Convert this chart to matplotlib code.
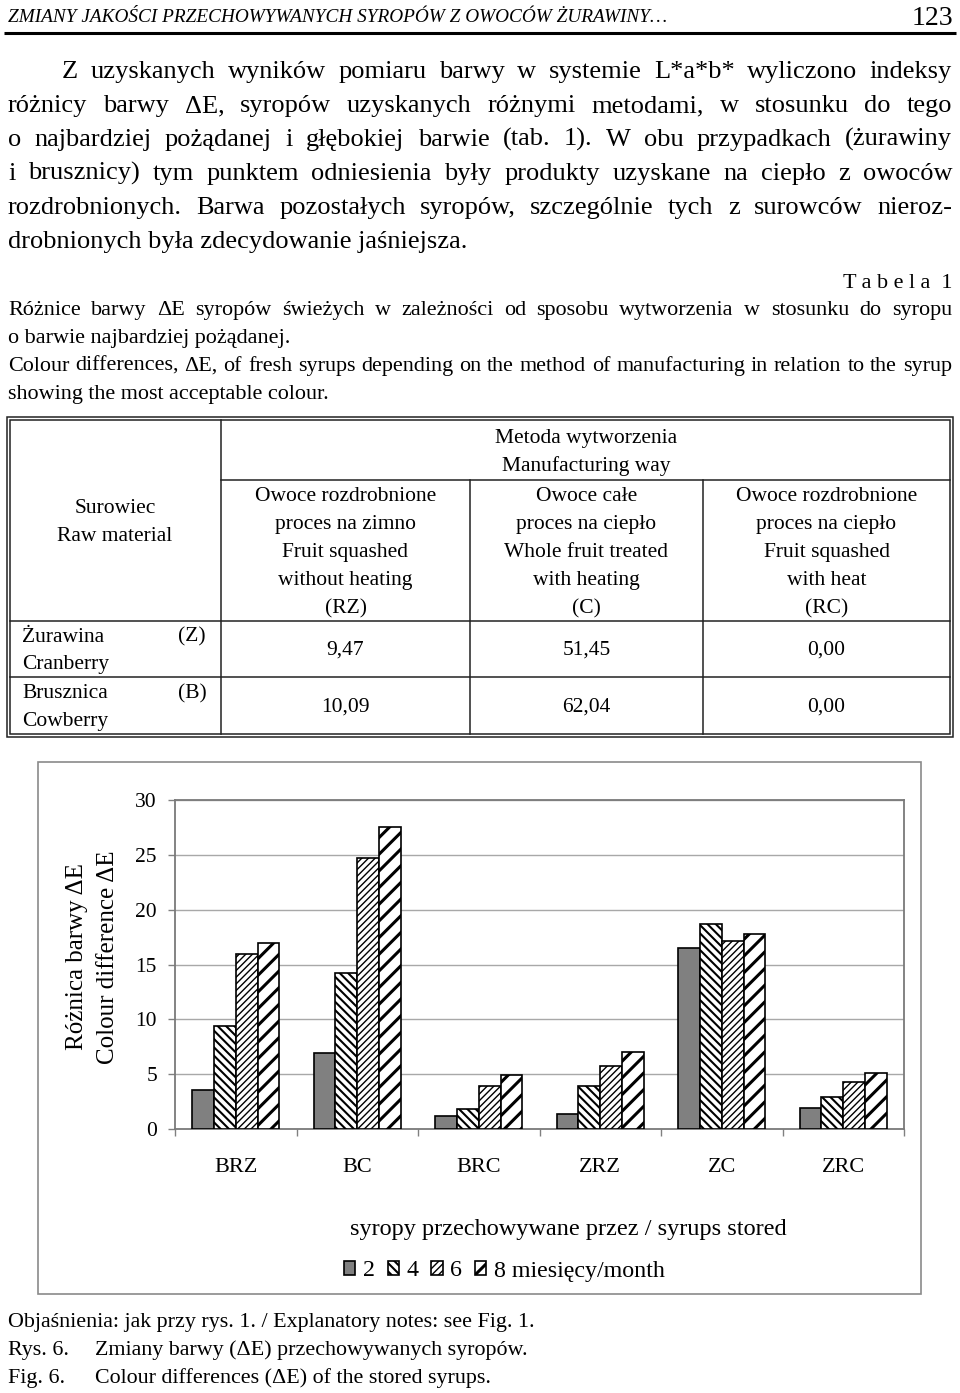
import matplotlib
matplotlib.use('Agg')
import matplotlib.pyplot as plt
from matplotlib.patches import Rectangle
import numpy as np

plt.rcParams['font.family'] = ['Liberation Serif', 'DejaVu Serif']

# ---------------- data ----------------
categories = ['BRZ', 'BC', 'BRC', 'ZRZ', 'ZC', 'ZRC']
months_2 = [3.6, 6.9, 1.2, 1.35, 16.5, 1.9]
months_4 = [9.4, 14.2, 1.8, 3.9, 18.65, 2.9]
months_6 = [16.0, 24.7, 3.9, 5.75, 17.15, 4.25]
months_8 = [17.0, 27.55, 4.9, 7.05, 17.8, 5.1]
legend_labels = ['2', '4', '6', '8 miesięcy/month']
yticks = [0, 5, 10, 15, 20, 25, 30]

table_rows_pl = ['Żurawina', 'Brusznica']
table_rows_en = ['Cranberry', 'Cowberry']
table_codes = ['(Z)', '(B)']
table_RZ = ['9,47', '10,09']
table_C = ['51,45', '62,04']
table_RC = ['0,00', '0,00']

W, H = 960, 1393
fig = plt.figure(figsize=(W / 100, H / 100), dpi=100)
fig.patch.set_facecolor('white')

pg = fig.add_axes([0, 0, 1, 1], zorder=0)
pg.set_xlim(0, W)
pg.set_ylim(H, 0)
pg.axis('off')

renderer = fig.canvas.get_renderer()


def text_width(s, fs, **kw):
    t = pg.text(0, 0, s, fontsize=fs, **kw)
    w = t.get_window_extent(renderer).width
    t.remove()
    return w


def justify(line, x0, x1, y, fs, **kw):
    words = line.split(' ')
    ws = [text_width(w, fs, **kw) for w in words]
    gap = (x1 - x0 - sum(ws)) / (len(words) - 1)
    x = x0
    for w, wd in zip(words, ws):
        pg.text(x, y, w, fontsize=fs, va='baseline', ha='left', **kw)
        x += wd + gap


# ---------------- header ----------------
pg.text(8, 22, 'ZMIANY JAKOŚCI PRZECHOWYWANYCH SYROPÓW Z OWOCÓW ŻURAWINY…',
        fontsize=13.9, fontstyle='italic', va='baseline', ha='left')
pg.text(953, 25, '123', fontsize=20, va='baseline', ha='right')
pg.plot([4, 956], [33, 33], color='black', lw=2.2, solid_capstyle='butt')

# ---------------- body paragraph ----------------
body_fs = 19
body = [
    'Z uzyskanych wyników pomiaru barwy w systemie L*a*b* wyliczono indeksy',
    'różnicy barwy ΔE, syropów uzyskanych różnymi metodami, w stosunku do tego',
    'o najbardziej pożądanej i głębokiej barwie (tab. 1). W obu przypadkach (żurawiny',
    'i brusznicy) tym punktem odniesienia były produkty uzyskane na ciepło z owoców',
    'rozdrobnionych. Barwa pozostałych syropów, szczególnie tych z surowców nieroz-',
]
body_base = [78, 112, 146, 180, 214]
for i, (ln, yb) in enumerate(zip(body, body_base)):
    justify(ln, 62 if i == 0 else 8, 952, yb, body_fs)
pg.text(8, 248, 'drobnionych była zdecydowanie jaśniejsza.', fontsize=body_fs,
        va='baseline', ha='left')

# ---------------- table caption ----------------
cap_fs = 15.9
pg.text(952, 288, 'T a b e l a  1', fontsize=cap_fs, va='baseline', ha='right')
justify('Różnice barwy ΔE syropów świeżych w zależności od sposobu wytworzenia w stosunku do syropu',
        8, 952, 315, cap_fs)
pg.text(8, 343, 'o barwie najbardziej pożądanej.', fontsize=cap_fs, va='baseline')
justify('Colour differences, ΔE, of fresh syrups depending on the method of manufacturing in relation to the syrup',
        8, 952, 371, cap_fs)
pg.text(8, 399, 'showing the most acceptable colour.', fontsize=cap_fs, va='baseline')

# ---------------- table ----------------
tc = '#222222'
tl = 1.1
for (x0, y0, x1, y1) in [(7, 417, 953, 737), (10, 420, 950, 734)]:
    pg.add_patch(Rectangle((x0, y0), x1 - x0, y1 - y0, fill=False, ec=tc, lw=tl))
pg.plot([221, 221], [420, 734], color=tc, lw=tl)
pg.plot([221, 950], [480, 480], color=tc, lw=tl)
pg.plot([470, 470], [480, 734], color=tc, lw=tl)
pg.plot([703, 703], [480, 734], color=tc, lw=tl)
pg.plot([10, 950], [620.5, 620.5], color=tc, lw=tl)
pg.plot([10, 950], [677, 677], color=tc, lw=tl)

tf = 15.5
pg.text(586, 443, 'Metoda wytworzenia', fontsize=tf, ha='center', va='baseline')
pg.text(586, 471, 'Manufacturing way', fontsize=tf, ha='center', va='baseline')
pg.text(115, 513, 'Surowiec', fontsize=tf, ha='center', va='baseline')
pg.text(115, 541, 'Raw material', fontsize=tf, ha='center', va='baseline')
col_heads = [
    (345.5, ['Owoce rozdrobnione', 'proces na zimno', 'Fruit squashed', 'without heating', '(RZ)']),
    (586.5, ['Owoce całe', 'proces na ciepło', 'Whole fruit treated', 'with heating', '(C)']),
    (826.5, ['Owoce rozdrobnione', 'proces na ciepło', 'Fruit squashed', 'with heat', '(RC)']),
]
for xc, lines in col_heads:
    for k, s in enumerate(lines):
        pg.text(xc, 501 + 28 * k, s, fontsize=tf, ha='center', va='baseline')

row_base = [641.5, 698]
for r in range(2):
    yb = row_base[r]
    pg.text(22, yb, table_rows_pl[r], fontsize=tf, va='baseline', ha='left')
    pg.text(22, yb + 28, table_rows_en[r], fontsize=tf, va='baseline', ha='left')
    pg.text(192, yb, table_codes[r], fontsize=tf, va='baseline', ha='center')
    ym = yb + 13.5
    pg.text(345.5, ym, table_RZ[r], fontsize=tf, va='baseline', ha='center')
    pg.text(586.5, ym, table_C[r], fontsize=tf, va='baseline', ha='center')
    pg.text(826.5, ym, table_RC[r], fontsize=tf, va='baseline', ha='center')

# ---------------- chart ----------------
pg.add_patch(Rectangle((38, 762), 921 - 38, 1294 - 762, fill=False, ec='#8a8a8a', lw=1.2))

ax = fig.add_axes([175 / W, 1 - 1129 / H, 729 / W, 329 / H], zorder=1)
ax.set_facecolor('white')
x = np.arange(len(categories))
bw = 0.18
series = [months_2, months_4, months_6, months_8]
styles = [
    dict(color='#808080', hatch=None, hlw=1.0),
    dict(color='white', hatch='\\\\\\\\', hlw=1.5),
    dict(color='white', hatch='/////', hlw=1.0),
    dict(color='white', hatch='//', hlw=2.2),
]
handles = []
for j, (vals, st) in enumerate(zip(series, styles)):
    with plt.rc_context({'hatch.linewidth': st['hlw'], 'hatch.color': 'black'}):
        bars = ax.bar(x + (j - 1.5) * bw, vals, width=bw, color=st['color'],
                      edgecolor='black', linewidth=1.2, hatch=st['hatch'], zorder=3)
    for b in bars:
        if hasattr(b, 'set_hatch_linewidth'):
            b.set_hatch_linewidth(st['hlw'])
    handles.append(bars)

ax.set_xlim(-0.5, len(categories) - 0.5)
ax.set_ylim(0, 30)
ax.set_yticks(yticks)
ax.set_yticklabels([str(v) for v in yticks])
ax.set_xticks(np.arange(-0.5, len(categories), 1.0))
ax.set_xticklabels([])
ax.set_xticks(x, minor=True)
ax.set_xticklabels(categories, minor=True)
ax.tick_params(axis='x', which='major', direction='out', length=5, color='#808080', width=1)
ax.tick_params(axis='x', which='minor', length=0, labelsize=16, pad=21)
ax.tick_params(axis='y', direction='out', length=5, color='#808080', width=1,
               labelsize=15.5, pad=8)
ax.grid(axis='y', color='#a8a8a8', lw=1.0, zorder=0)
ax.set_axisbelow(True)
for s in ax.spines.values():
    s.set_color('#7a7a7a')
    s.set_linewidth(1.3)

pg.text(77, 957, 'Różnica barwy ΔE', fontsize=18, rotation=90, ha='center', va='center')
pg.text(108, 957, 'Colour difference ΔE', fontsize=18, rotation=90, ha='center', va='center')

pg.text(568, 1235, 'syropy przechowywane przez / syrups stored', fontsize=17.5,
        ha='center', va='baseline')

leg = fig.legend([h[0] for h in handles], legend_labels, loc='center left',
                 bbox_to_anchor=(344 / W, 1 - 1271 / H), ncol=4, frameon=False,
                 fontsize=17.3, handlelength=0.47, handleheight=0.47, handletextpad=0.3,
                 columnspacing=0.55, borderpad=0, borderaxespad=0)
for p, st in zip(leg.get_patches(), styles):
    if hasattr(p, 'set_hatch_linewidth'):
        p.set_hatch_linewidth(st['hlw'])

# ---------------- figure caption ----------------
ff = 15.8
pg.text(8, 1327, 'Objaśnienia: jak przy rys. 1. / Explanatory notes: see Fig. 1.',
        fontsize=ff, va='baseline')
pg.text(8, 1355, 'Rys. 6.', fontsize=ff, va='baseline')
pg.text(95, 1355, 'Zmiany barwy (ΔE) przechowywanych syropów.', fontsize=ff, va='baseline')
pg.text(8, 1383, 'Fig. 6.', fontsize=ff, va='baseline')
pg.text(95, 1383, 'Colour differences (ΔE) of the stored syrups.', fontsize=ff, va='baseline')

fig.savefig('out.png', dpi=100, facecolor='white')
